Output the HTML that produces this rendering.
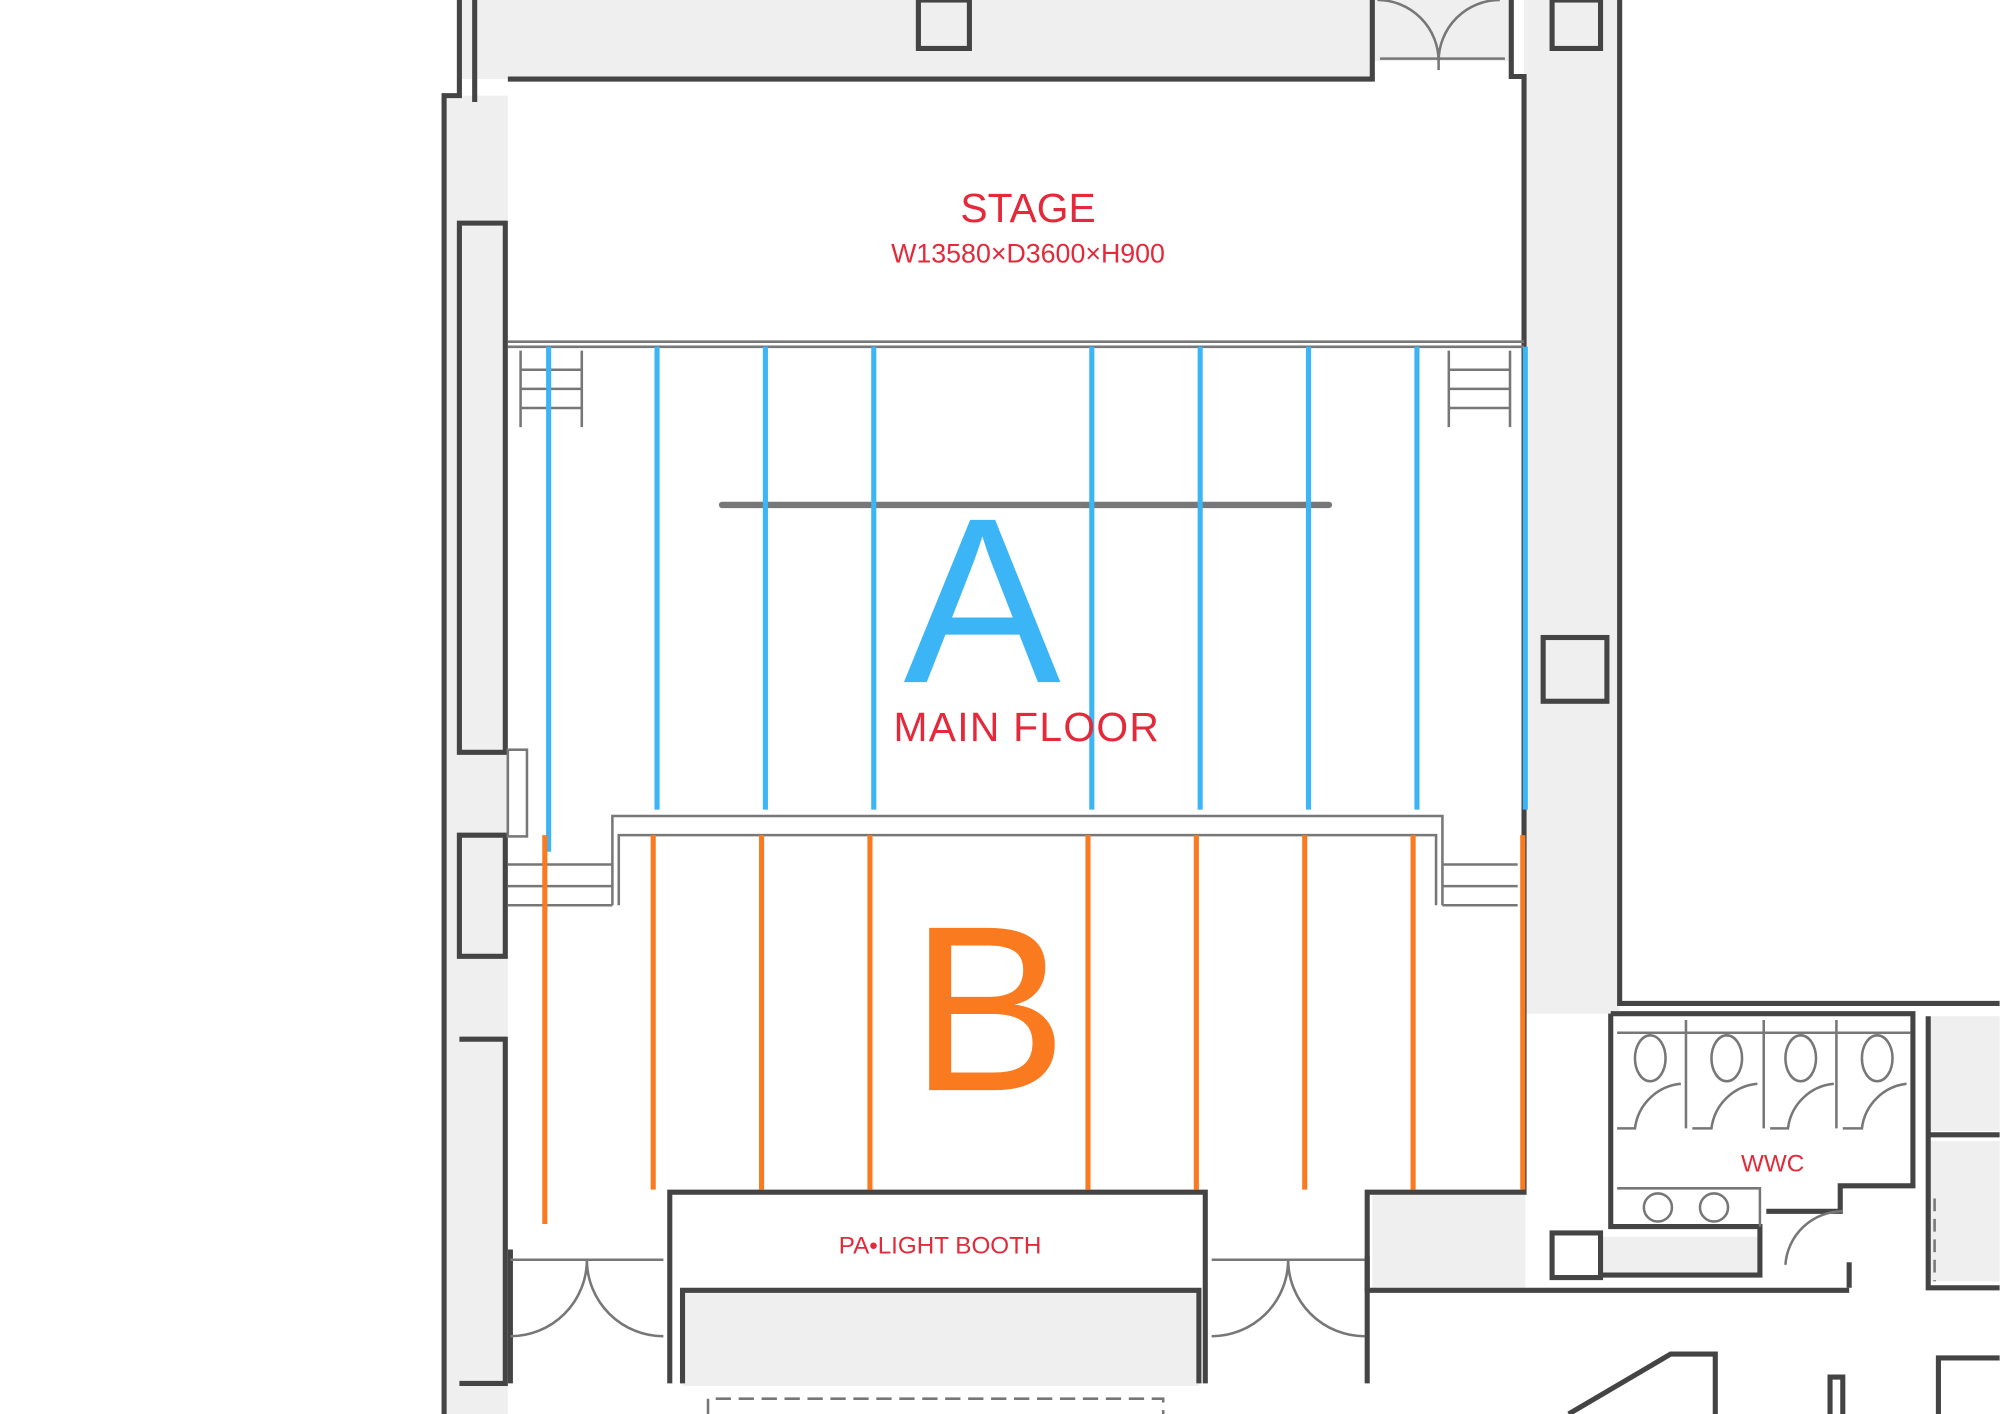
<!DOCTYPE html>
<html><head><meta charset="utf-8"><style>html,body{margin:0;padding:0;background:#fff}svg{display:block}</style></head>
<body>
<svg width="2000" height="1414" viewBox="0 0 1568 1109" xmlns="http://www.w3.org/2000/svg" font-family="Liberation Sans, sans-serif">
<rect width="1568" height="1109" fill="#fff"/>
<g fill="#efefef" stroke="none">
<rect x="360" y="0" width="716" height="62"/>
<rect x="1076" y="0" width="110" height="48"/>
<rect x="1195" y="0" width="75" height="795"/>
<rect x="348" y="75" width="50" height="1034"/>
<rect x="1076" y="935" width="120" height="75"/>
<rect x="535" y="1012" width="405" height="75"/>
<rect x="1512" y="797" width="56" height="90"/>
<rect x="1512" y="895" width="56" height="110"/>
<rect x="1255" y="970" width="125" height="30"/>
</g>
<g fill="none" stroke="#444" stroke-width="4">
<path d="M360 0 V75 H348 V1109"/>
<path d="M372 0 V80"/>
<path d="M398 62 H1076 V0"/>
<path d="M1185 0 V60 H1195 V935 H1072 V1012 H1450"/>
<path d="M1270 0 V787 H1568"/>
<path d="M1263 795 V962 H1380 V1000 H1255"/>
<path d="M1263 795 H1500 V930 H1443 V950 H1385"/>
<path d="M1512 797 V1010 H1568"/>
<path d="M1512 890 H1568"/>
<path d="M360 175 H396 V590 H360 Z"/>
<path d="M360 655 H396 V750 H360 Z"/>
<path d="M360 815 H396 V1085 H360"/>
<path d="M525 1085 V935 H945 V1085"/>
<path d="M535 1085 V1012 H940 V1085"/>
<path d="M400 980 V1085"/>
<path d="M1072 985 V1085"/>
<path d="M1450 990 V1010"/>
<path d="M1230 1109 L1310 1062 H1345 V1109"/>
<path d="M1435 1109 V1080 H1445 V1109"/>
<path d="M1520 1109 V1065 H1568"/>
<rect x="720" y="0" width="40" height="38"/>
<rect x="1217" y="0" width="38" height="38"/>
<rect x="1210" y="500" width="50" height="50"/>
<rect x="1217" y="967" width="38" height="35"/>
</g>
<g fill="none" stroke="#777" stroke-width="2">
<path d="M398 268 H1195 M398 272 H1195"/>
<path d="M566 396 H1042" stroke-width="5" stroke-linecap="round"/>
<path d="M480 710 V640 H1131 V710 M485 710 V655 H1126 V710"/>
<path d="M398 678 H480 M398 695 H480 M398 710 H480"/>
<path d="M1131 678 H1190 M1131 695 H1190 M1131 710 H1190"/>
<rect x="398" y="588" width="15" height="68"/>
<path d="M408 275 V335 M456 275 V335 M408 290 H456 M408 305 H456 M408 320 H456"/>
<path d="M1136 275 V335 M1184 275 V335 M1136 290 H1184 M1136 305 H1184 M1136 320 H1184"/>
<path d="M400 988 H520 M400 1048 A60 60 0 0 0 460 988 M520 1048 A60 60 0 0 1 460 988"/>
<path d="M950 988 H1070 M950 1048 A60 60 0 0 0 1010 988 M1070 1048 A60 60 0 0 1 1010 988"/>
<path d="M1082 46 H1180 M1080 0 A48 48 0 0 1 1128 48 M1176 0 A48 48 0 0 0 1128 48 M1128 40 V55"/>
<path d="M1268 810 H1498 M1322 800 V885 M1383 800 V885 M1440 800 V885 M1268 885 H1282 A40 40 0 0 1 1318 850 M1327 885 H1342 A40 40 0 0 1 1378 850 M1388 885 H1402 A40 40 0 0 1 1438 850 M1445 885 H1460 A40 40 0 0 1 1495 850"/>
<ellipse cx="1294" cy="830" rx="12" ry="18"/><ellipse cx="1354" cy="830" rx="12" ry="18"/><ellipse cx="1412" cy="830" rx="12" ry="18"/><ellipse cx="1472" cy="830" rx="12" ry="18"/>
<path d="M1268 932 H1380 V962"/>
<circle cx="1300" cy="947" r="11"/><circle cx="1344" cy="947" r="11"/>
<path d="M1400 992 A45 45 0 0 1 1445 950"/>
<path d="M1517 940 V1005" stroke-dasharray="10 6"/>
<path d="M555 1109 V1097 H912 V1109" stroke-dasharray="12 6"/>
</g>
<g stroke="#3bb5f6" stroke-width="4">
<path d="M430 272 V668 M515 272 V635 M600 272 V635 M685 272 V635 M856 272 V635 M941 272 V635 M1026 272 V635 M1111 272 V635 M1196 272 V635"/>
</g>
<g stroke="#f97a1f" stroke-width="4">
<path d="M427 655 V960 M512 655 V933 M597 655 V933 M682 655 V933 M853 655 V933 M938 655 V933 M1023 655 V933 M1108 655 V933 M1194 655 V933"/>
</g>
<g fill="#e42a3a" text-anchor="middle">
<text x="806" y="174" font-size="32">STAGE</text>
<text x="806" y="206" font-size="21">W13580×D3600×H900</text>
<text x="805" y="581" font-size="32" letter-spacing="1">MAIN FLOOR</text>
<text x="737" y="983" font-size="19">PA•LIGHT BOOTH</text>
<text x="1390" y="919" font-size="19">WWC</text>
</g>
<text x="770" y="535" font-size="185" fill="#3bb5f6" text-anchor="middle">A</text>
<text x="775" y="855" font-size="185" fill="#f97a1f" text-anchor="middle">B</text>
</svg>
</body></html>
